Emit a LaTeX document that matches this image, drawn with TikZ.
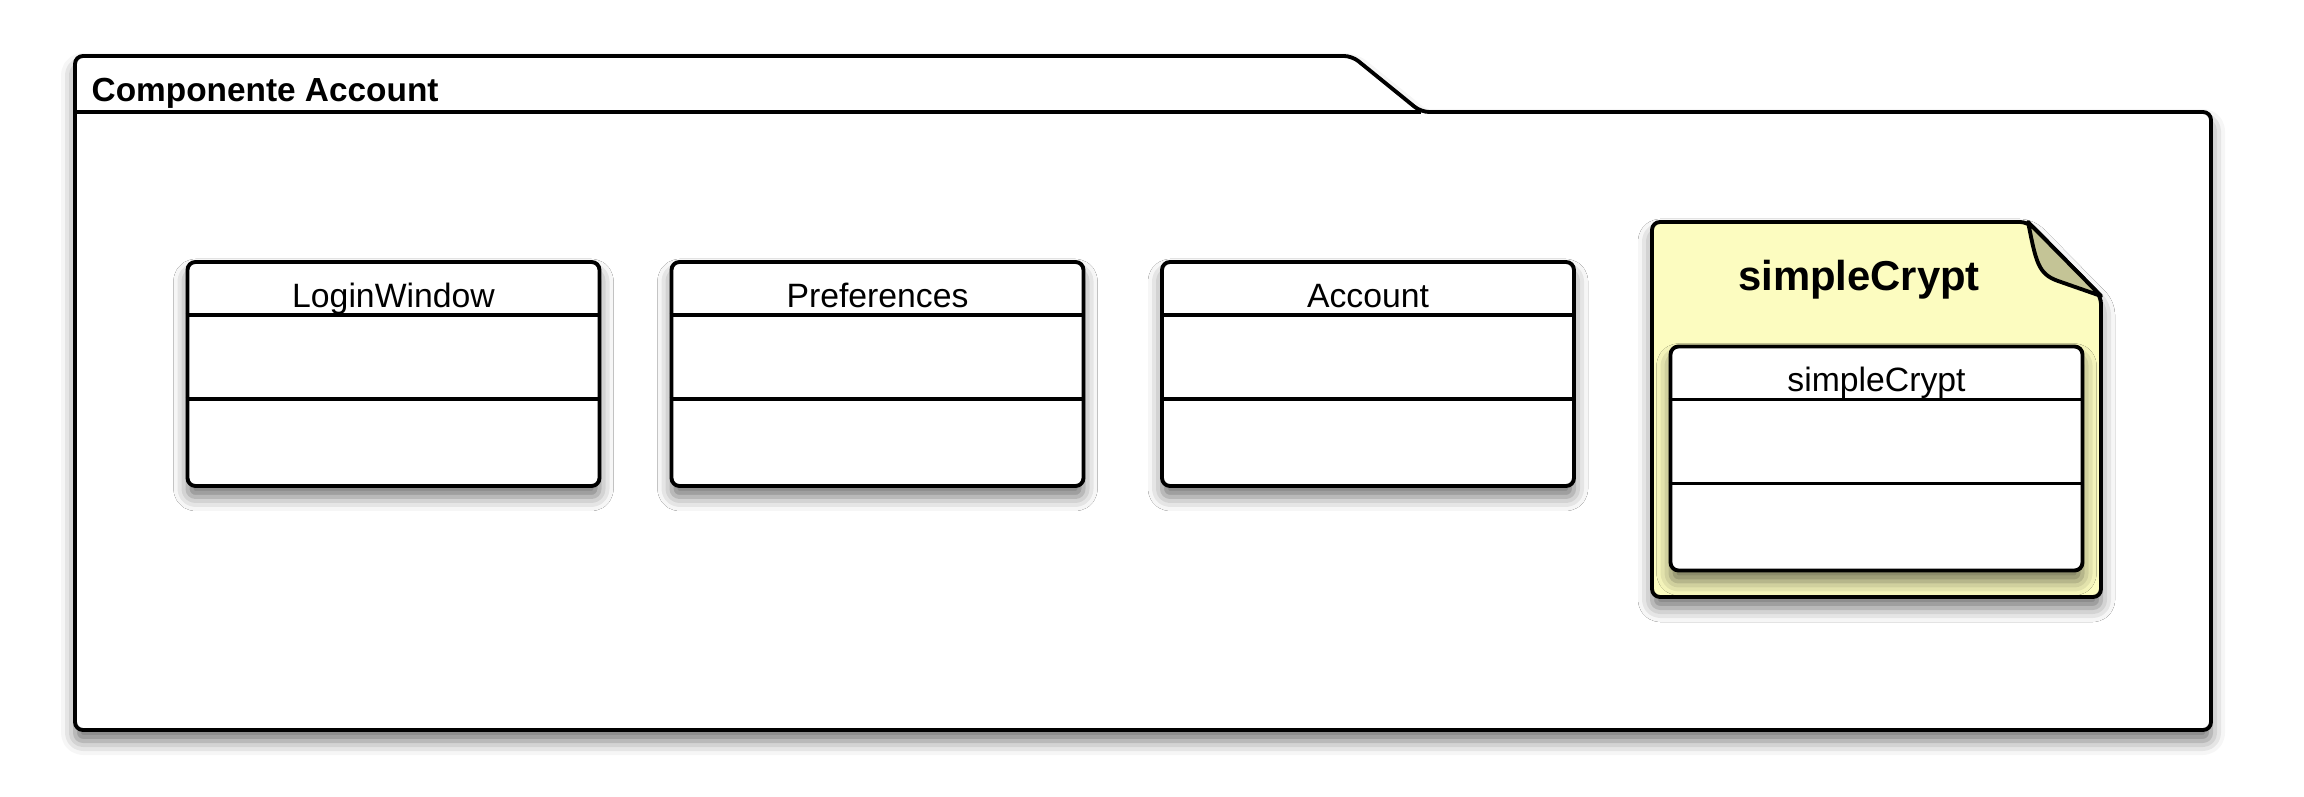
\documentclass[tikz,border=0pt]{standalone}
\usepackage{fontspec}
\setmainfont{Liberation Sans}
\usetikzlibrary{calc,shadows.blur}
\definecolor{notefill}{RGB}{252,252,192}
\definecolor{notefold}{RGB}{196,196,150}

\begin{document}
\begin{tikzpicture}[x=0.1mm,y=-0.1mm,
  outline/.style={draw,line width=1.1pt,line join=round},
  softshadow/.style={blur shadow={shadow xshift=0mm,shadow yshift=-1.1mm,shadow blur radius=1.4mm,shadow opacity=55}},
  classbox/.style={outline,fill=white,rounded corners=0.8mm,minimum width=41.2mm,minimum height=22.4mm,inner sep=0pt,softshadow},
  classname/.style={anchor=base,inner sep=0pt,font=\fontsize{9.6}{11}\selectfont},
  pkgname/.style={anchor=base west,inner sep=0pt,font=\fontsize{9.5}{11}\selectfont\bfseries},
  notetitle/.style={anchor=base,inner sep=0pt,font=\fontsize{11.9}{14}\selectfont\bfseries},
  sepline/.style={line width=1.1pt}]
  \useasboundingbox (0,0) rectangle (2304,797);
  % paquete
  \draw[outline,fill=white,rounded corners=0.8mm,softshadow] (75,730) -- (75,56) -- (1352,56) -- (1421,112) -- (2211,112) -- (2211,730) -- cycle;
  \draw[sepline] (75,112) -- (1421,112);
  \node[pkgname] (pkglabel) at (91,102) {Componente Account};
  % clases
  \foreach \n/\xc/\txt in {login/393.5/LoginWindow,prefs/877.5/Preferences,account/1368/Account}{
    \node[classbox] (\n) at (\xc,374) {};
    \node[classname] (\n-name) at ($(\n.north)+(0,47)$) {\txt};
    \draw[sepline] ($(\n.north west)+(0,55)$) -- ($(\n.north east)+(0,55)$);
    \draw[sepline] ($(\n.north west)+(0,139)$) -- ($(\n.north east)+(0,139)$);
  }
  % nota simpleCrypt
  \draw[outline,fill=notefill,rounded corners=0.8mm,softshadow] (2028,222) -- (1652,222) -- (1652,597) -- (2101,597) -- (2101,296) -- cycle;
  \draw[outline,fill=notefold] (2028,222) .. controls (2036,262) and (2038,274) .. (2058,281) -- (2101,296) -- cycle;
  \node[notetitle] (crypttitle) at (1859,291) {simpleCrypt};
  \node[classbox] (crypt) at (1876.5,458.5) {};
  \node[classname] (crypt-name) at ($(crypt.north)+(0,47)$) {simpleCrypt};
  \draw[sepline] ($(crypt.north west)+(0,55)$) -- ($(crypt.north east)+(0,55)$);
  \draw[sepline] ($(crypt.north west)+(0,139)$) -- ($(crypt.north east)+(0,139)$);
\end{tikzpicture}
\end{document}
